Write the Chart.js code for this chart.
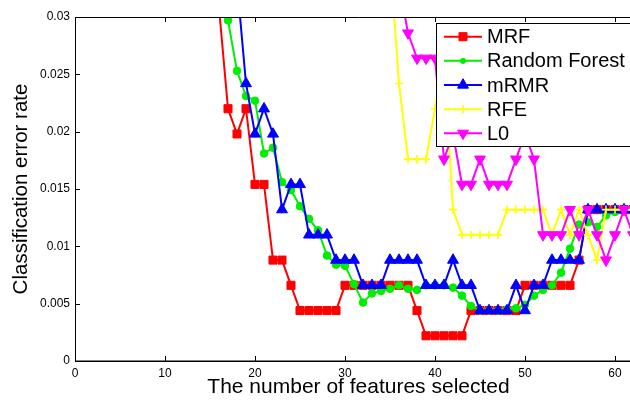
<!DOCTYPE html>
<html>
<head>
<meta charset="utf-8">
<script src="https://cdn.jsdelivr.net/npm/chart.js@4.4.0/dist/chart.umd.min.js"></script>
<style>
  html, body { margin: 0; padding: 0; background: #ffffff; overflow: hidden; width: 630px; height: 400px; }
  /* the axes box runs on past the right edge of the visible area */
  #wrap { width: 642px; height: 400px; position: relative; }
  #chart { display: block; }
</style>
</head>
<body>
<div id="wrap"><canvas id="chart" width="642" height="400"></canvas></div>
<script>
const FONT = "'Liberation Sans', Arial, Helvetica, sans-serif";

// Classification error rate versus number of selected features, one list per method.
// Each list starts at the feature count given by its *Start constant.
const seriesNames = ['MRF', 'Random Forest', 'mRMR', 'RFE', 'L0'];

const mrfStart = 16;
const mrfError = [
  0.0308, 0.022, 0.0198, 0.022, 0.0154, 0.0154, 0.0088, 0.0088, 0.0066,
  0.0044, 0.0044, 0.0044, 0.0044, 0.0044,
  0.0066, 0.0066, 0.0066, 0.0066, 0.0066, 0.0066, 0.0066, 0.0066,
  0.0044,
  0.0022, 0.0022, 0.0022, 0.0022, 0.0022,
  0.0044, 0.0044, 0.0044, 0.0044, 0.0044, 0.0044,
  0.0066, 0.0066, 0.0066, 0.0066, 0.0066, 0.0066,
  0.0088,
  0.0132, 0.0132, 0.0132, 0.0132, 0.0132, 0.0132
];

const rfStart = 16;
const rfError = [
  0.045, 0.0297, 0.0253, 0.0231, 0.0227, 0.0181, 0.0186, 0.0156, 0.0149, 0.0135,
  0.0124, 0.0114, 0.0092, 0.0084, 0.0083, 0.0067, 0.0051, 0.0059, 0.0061, 0.0063,
  0.0066, 0.0063, 0.0062, 0.0066, 0.0066, 0.0066, 0.0064, 0.0057, 0.0048, 0.0044,
  0.0044, 0.0044, 0.0045, 0.0046, 0.0049, 0.0057, 0.0062, 0.0066, 0.0077, 0.0098,
  0.0119, 0.0121, 0.0117, 0.0127, 0.0130, 0.0132, 0.0132
];

const mrmrStart = 18;
const mrmrError = [
  0.033, 0.0242, 0.0198, 0.022, 0.0198, 0.0132, 0.0154, 0.0154,
  0.011, 0.011, 0.011, 0.0088, 0.0088, 0.0088, 0.0066, 0.0066, 0.0066,
  0.0088, 0.0088, 0.0088, 0.0088, 0.0066, 0.0066, 0.0066, 0.0088, 0.0066, 0.0066,
  0.0044, 0.0044, 0.0044, 0.0044, 0.0066, 0.0044, 0.0066, 0.0066,
  0.0088, 0.0088, 0.0088, 0.0088,
  0.0132, 0.0132, 0.0132, 0.0132, 0.0132, 0.0132
];

const rfeStart = 35;
const rfeError = [
  0.0352, 0.0242, 0.0176, 0.0176, 0.0176, 0.022, 0.0264, 0.0132,
  0.011, 0.011, 0.011, 0.011, 0.011,
  0.0132, 0.0132, 0.0132, 0.0132, 0.0132,
  0.011, 0.0132, 0.011, 0.0132, 0.011, 0.0088,
  0.0132, 0.0132, 0.0132, 0.0132
];

const l0Start = 36;
const l0Error = [
  0.033, 0.0286, 0.0264, 0.0264, 0.0264, 0.0176, 0.0198, 0.0154, 0.0154,
  0.0176, 0.0154, 0.0154, 0.0154, 0.0176, 0.0198, 0.0176,
  0.011, 0.011, 0.011, 0.0132, 0.011, 0.0132, 0.011, 0.0088, 0.011, 0.0132, 0.011
];

const xTickValues = [0, 10, 20, 30, 40, 50, 60];
const xTickLabels = ['0', '10', '20', '30', '40', '50', '60'];
const yTickValues = [0, 0.005, 0.01, 0.015, 0.02, 0.025, 0.03];
const yTickLabels = ['0', '0.005', '0.01', '0.015', '0.02', '0.025', '0.03'];

function toPoints(start, values) {
  return values.map((v, i) => ({ x: start + i, y: v }));
}

const styles = [
  { color: '#ff0000', shape: 'rect',     radius: 5.7, rotation: 0,   order: 5 },
  { color: '#00ee00', shape: 'circle',   radius: 3.8, rotation: 0,   order: 4 },
  { color: '#0000ff', shape: 'triangle', radius: 6.3, rotation: 0,   order: 3 },
  { color: '#ffff00', shape: 'cross',    radius: 4.2, rotation: 0,   order: 2 },
  { color: '#ff00ff', shape: 'triangle', radius: 6.3, rotation: 180, order: 1 }
];
const seriesData = [
  toPoints(mrfStart, mrfError),
  toPoints(rfStart, rfError),
  toPoints(mrmrStart, mrmrError),
  toPoints(rfeStart, rfeError),
  toPoints(l0Start, l0Error)
];

const datasets = seriesNames.map((name, i) => ({
  label: name,
  data: seriesData[i],
  borderColor: styles[i].color,
  backgroundColor: styles[i].color,
  pointBackgroundColor: styles[i].color,
  pointBorderColor: styles[i].color,
  pointStyle: styles[i].shape,
  pointRadius: styles[i].radius,
  pointRotation: styles[i].rotation,
  pointBorderWidth: styles[i].shape === 'cross' ? 1.6 : 1,
  borderWidth: 2,
  tension: 0,
  fill: false,
  order: styles[i].order
}));

// Marker shapes for the legend sample lines
function drawMarker(ctx, st, x, y, r) {
  ctx.save();
  ctx.fillStyle = st.color;
  ctx.strokeStyle = st.color;
  ctx.lineWidth = 1;
  ctx.beginPath();
  if (st.shape === 'rect') {
    const s = Math.SQRT1_2 * r;
    ctx.rect(x - s, y - s, 2 * s, 2 * s);
    ctx.fill(); ctx.stroke();
  } else if (st.shape === 'circle') {
    ctx.arc(x, y, r, 0, Math.PI * 2);
    ctx.fill(); ctx.stroke();
  } else if (st.shape === 'triangle') {
    let a = st.rotation * Math.PI / 180;
    ctx.moveTo(x + Math.sin(a) * r, y - Math.cos(a) * r);
    a += 2 * Math.PI / 3;
    ctx.lineTo(x + Math.sin(a) * r, y - Math.cos(a) * r);
    a += 2 * Math.PI / 3;
    ctx.lineTo(x + Math.sin(a) * r, y - Math.cos(a) * r);
    ctx.closePath();
    ctx.fill(); ctx.stroke();
  } else if (st.shape === 'cross') {
    ctx.lineWidth = 1.6;
    ctx.moveTo(x - r, y); ctx.lineTo(x + r, y);
    ctx.moveTo(x, y - r); ctx.lineTo(x, y + r);
    ctx.stroke();
  }
  ctx.restore();
}

// Axes box with inward tick marks, then the boxed legend in the upper right
const framePlugin = {
  id: 'frame',
  afterDatasetsDraw(chart) {
    const { ctx, chartArea: a, scales } = chart;
    const xs = scales.x, ys = scales.y;
    ctx.save();
    ctx.strokeStyle = '#000';
    ctx.lineWidth = 1;
    ctx.beginPath();
    ctx.moveTo(a.left + 0.5, a.top + 0.5);
    ctx.lineTo(a.right, a.top + 0.5);
    ctx.moveTo(a.left + 0.5, a.top);
    ctx.lineTo(a.left + 0.5, a.bottom + 0.5);
    ctx.stroke();
    ctx.lineWidth = 1.5;
    ctx.beginPath();
    ctx.moveTo(a.left, a.bottom + 0.25);
    ctx.lineTo(a.right, a.bottom + 0.25);
    ctx.stroke();
    ctx.lineWidth = 1;
    ctx.beginPath();
    const tl = 5;
    xTickValues.forEach(v => {
      const px = Math.round(xs.getPixelForValue(v)) + 0.5;
      ctx.moveTo(px, a.bottom); ctx.lineTo(px, a.bottom - tl);
      ctx.moveTo(px, a.top); ctx.lineTo(px, a.top + tl);
    });
    yTickValues.forEach(v => {
      const py = Math.round(ys.getPixelForValue(v)) + 0.5;
      ctx.moveTo(a.left, py); ctx.lineTo(a.left + tl, py);
    });
    ctx.stroke();

    // legend
    const lx = 436.5, ly = 23.5, lw = 260, lh = 123;
    ctx.fillStyle = '#fff';
    ctx.fillRect(lx, ly, lw, lh);
    ctx.strokeStyle = '#000';
    ctx.lineWidth = 1;
    ctx.strokeRect(lx, ly, lw, lh);
    ctx.font = '20px ' + FONT;
    ctx.textBaseline = 'middle';
    ctx.textAlign = 'left';
    seriesNames.forEach((name, i) => {
      const cy = 36.7 + i * 24.15;
      const st = styles[i];
      ctx.strokeStyle = st.color;
      ctx.lineWidth = 2;
      ctx.beginPath();
      ctx.moveTo(444, cy); ctx.lineTo(482, cy);
      ctx.stroke();
      drawMarker(ctx, st, 463, cy, st.shape === 'circle' ? 2.6 : st.radius);
      ctx.fillStyle = '#000';
      ctx.fillText(name, 487, cy + 1);
    });
    ctx.restore();
  }
};

new Chart(document.getElementById('chart'), {
  type: 'line',
  data: { datasets },
  options: {
    responsive: false,
    devicePixelRatio: 1,
    animation: false,
    layout: { autoPadding: false, padding: { left: 0, top: 17, right: 0, bottom: 0 } },
    plugins: { legend: { display: false }, tooltip: { enabled: false } },
    scales: {
      x: {
        type: 'linear',
        min: 0,
        max: 63,
        afterBuildTicks: s => { s.ticks = xTickValues.map(v => ({ value: v })); },
        afterFit: s => { s.height = 39; },
        grid: { display: false, drawTicks: false },
        border: { display: false },
        ticks: {
          includeBounds: false,
          autoSkip: false,
          maxRotation: 0,
          padding: 5,
          color: '#000',
          font: { family: FONT, size: 12 },
          callback: v => xTickLabels[xTickValues.indexOf(v)]
        },
        title: {
          display: true,
          text: 'The number of features selected',
          color: '#000',
          font: { family: FONT, size: 21 },
          padding: 0
        }
      },
      y: {
        type: 'linear',
        min: 0,
        max: 0.03,
        afterBuildTicks: s => { s.ticks = yTickValues.map(v => ({ value: v })); },
        afterFit: s => { s.width = 75; },
        grid: { display: false, drawTicks: false },
        border: { display: false },
        ticks: {
          includeBounds: false,
          autoSkip: false,
          padding: 5,
          color: '#000',
          font: { family: FONT, size: 12 },
          callback: (v, i) => yTickLabels[i]
        },
        title: {
          display: true,
          text: 'Classification error rate',
          color: '#000',
          font: { family: FONT, size: 20.5 },
          padding: { top: 9, bottom: 0 }
        }
      }
    }
  },
  plugins: [framePlugin]
});
</script>
</body>
</html>
